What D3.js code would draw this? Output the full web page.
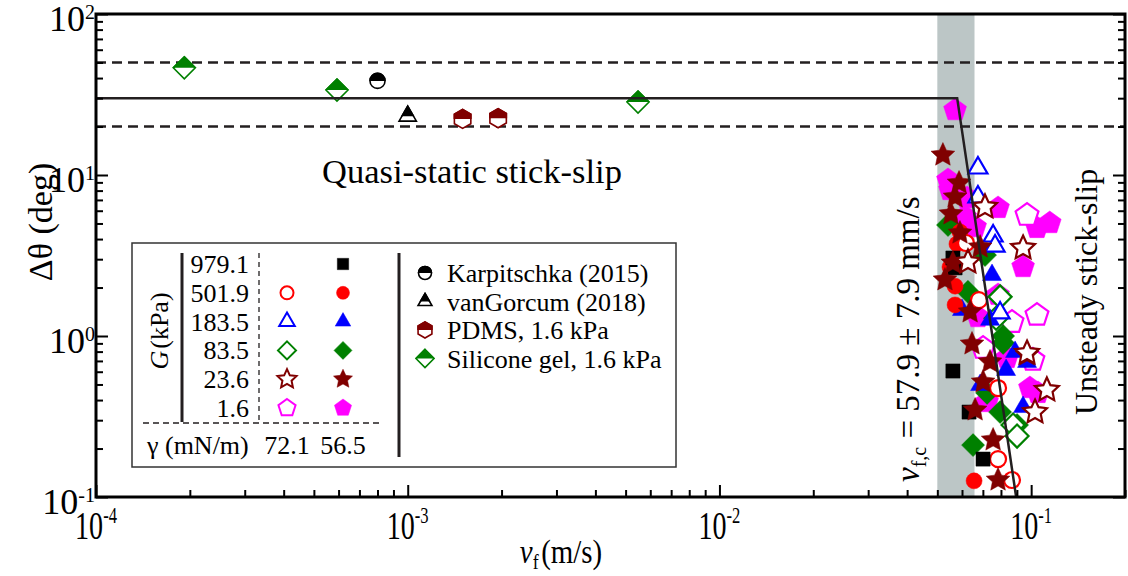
<!DOCTYPE html>
<html>
<head>
<meta charset="utf-8">
<script src="https://cdn.jsdelivr.net/npm/d3@7"></script>
<style>
body{margin:0;background:#fff;}
svg{display:block;font-family:"Liberation Serif","Times New Roman",serif;}
</style>
</head>
<body>
<script>
//axis domains and ticks
var xDomain = [1e-4, 0.2];
var yDomain = [0.1, 100];
var xTickExp = [-4, -3, -2, -1];
var yTickExp = [-1, 0, 1, 2];

//critical velocity band and model lines
var bandLow = 0.050, bandHigh = 0.0658;
var upperBound = 50, lowerBound = 20;
var fitV = [1e-4, 0.0579, 0.0895];
var fitTheta = [30, 30, 0.1];

//G = 979.1 kPa (only gamma 56.5)
var g979Filled = [[0.0561,3.05],[0.0570,2.65],[0.0561,0.606],[0.0632,0.337],[0.0701,0.172]];
//G = 501.9 kPa
var g501Open = [[0.0618,3.78],[0.0680,1.67],[0.0783,0.475],[0.0783,0.172],[0.0868,0.1275]];
var g501Filled = [[0.0591,4.43],[0.0578,3.73],[0.0549,2.68],[0.0570,2.04],[0.0570,1.56],[0.0656,0.126]];
//G = 183.5 kPa
var g183Open = [[0.0675,11.05],[0.0675,7.30],[0.0755,4.18],[0.0766,3.62],[0.0795,1.39]];
var g183Filled = [[0.0600,1.45],[0.0749,2.39],[0.0738,1.26],[0.0888,0.796],[0.0970,0.690],[0.0831,0.615],[0.0686,0.496],[0.0942,0.362]];
//G = 83.5 kPa
var g83Open = [[0.0795,1.75],[0.0772,1.29],[0.0875,0.280],[0.0901,0.239]];
var g83Filled = [[0.0541,4.89],[0.0711,3.18],[0.0627,1.88],[0.0813,1.00],[0.0813,0.905],[0.0722,0.443],[0.0795,0.337],[0.0901,0.280],[0.0651,0.210]];
//G = 23.6 kPa
var g23Open = [[0.0711,6.33],[0.0627,2.88],[0.0942,3.52],[0.0970,0.784],[0.1123,0.462],[0.1029,0.337]];
var g23Filled = [[0.0521,13.3],[0.0587,8.92],[0.0570,7.30],[0.0553,5.73],[0.0591,4.36],[0.0561,2.84],[0.0529,2.23],[0.0686,3.57],[0.0637,1.41],[0.0646,0.892],[0.0738,0.690],[0.0701,0.518],[0.0661,0.347],[0.0755,0.226],[0.0783,0.1275],[0.0970,0.762]];
//G = 1.6 kPa
var g1Open = [[0.0970,5.64],[0.1044,1.35],[0.0868,1.22],[0.0701,0.842],[0.1013,0.710]];
var g1Filled = [[0.0570,25.3],[0.0541,9.31],[0.0549,8.07],[0.0623,7.20],[0.0783,6.24],[0.0614,5.48],[0.0661,4.75],[0.1044,4.69],[0.1147,5.03],[0.0942,2.68],[0.0783,1.80],[0.0675,1.31],[0.0837,0.730],[0.0991,0.475],[0.1052,0.443],[0.0722,0.389]];

//literature / other substrates (half filled)
var karpitschka = [[8.0e-4,38.4]];
var vanGorcum = [[1.0e-3,23.2]];
var pdms = [[1.5e-3,22.3],[1.95e-3,22.5]];
var siliconeGel = [[1.92e-4,46.3],[5.93e-4,33.7],[5.48e-3,28.4]];

//legend texts
var legendG = ["979.1","501.9","183.5","83.5","23.6","1.6"];
var legendGamma = ["72.1","56.5"];
var legendRefs = ["Karpitschka (2015)","vanGorcum (2018)","PDMS, 1.6 kPa","Silicone gel, 1.6 kPa"];

var width = 1128, height = 576;
var svg = d3.select("body").append("svg").attr("width", width).attr("height", height);

var x = d3.scaleLog().domain(xDomain).range([96, 1125]);
var y = d3.scaleLog().domain(yDomain).range([497, 14]);

svg.append("defs").append("clipPath").attr("id","plotClip")
    .append("rect").attr("x",96).attr("y",14).attr("width",1029).attr("height",483);
svg.select("defs").append("clipPath").attr("id","topHalf")
    .append("rect").attr("x",-40).attr("y",-40).attr("width",80).attr("height",40);

var plot = svg.append("g").attr("clip-path","url(#plotClip)");

//shaded band for v_f,c
plot.append("rect")
    .attr("x", x(bandLow)).attr("y", y(yDomain[1]))
    .attr("width", x(bandHigh) - x(bandLow))
    .attr("height", y(yDomain[0]) - y(yDomain[1]))
    .attr("fill", "#bcc6c6");

//dashed bounds
[upperBound, lowerBound].forEach(function(v){
    plot.append("line")
        .attr("x1", x(xDomain[0])).attr("x2", x(xDomain[1]))
        .attr("y1", y(v)).attr("y2", y(v))
        .attr("stroke", "#231f20").attr("stroke-width", 2.5)
        .attr("stroke-dasharray", "10,6");
});

//marker shapes
function poly(n, r, rot){
    var pts = [];
    for (var i=0; i<n; i++){
        var a = rot + i * 2 * Math.PI / n;
        pts.push([r * Math.cos(a), r * Math.sin(a)]);
    }
    return d3.line()(pts) + "Z";
}
function shapePath(shape, r){
    if (shape == "circle") return d3.symbol().type(d3.symbolCircle).size(Math.PI * r * r)();
    if (shape == "square") return poly(4, r, -Math.PI/4);
    if (shape == "triangle") return poly(3, r, -Math.PI/2);
    if (shape == "diamond") return poly(4, r, -Math.PI/2);
    if (shape == "pentagon") return poly(5, r, -Math.PI/2);
    if (shape == "hexagon") return poly(6, r, -Math.PI/2);
    if (shape == "star"){
        var pts = [];
        for (var i=0; i<10; i++){
            var a = -Math.PI/2 + i * Math.PI / 5, rr = (i % 2) ? r * 0.48 : r;
            pts.push([rr * Math.cos(a), rr * Math.sin(a)]);
        }
        return d3.line()(pts) + "Z";
    }
}
var shapeSize = {circle: 8, square: 10, triangle: 11, diamond: 11.5, pentagon: 12, star: 12.5, hexagon: 9.5};

//series table built from the arrays above (draw order)
var series = [
    {data: g1Filled, shape: "pentagon", color: "#ff00ff", filled: true},
    {data: g1Open, shape: "pentagon", color: "#ff00ff", filled: false},
    {data: g83Filled, shape: "diamond", color: "#008000", filled: true},
    {data: g83Open, shape: "diamond", color: "#008000", filled: false},
    {data: g183Filled, shape: "triangle", color: "#0000ff", filled: true},
    {data: g183Open, shape: "triangle", color: "#0000ff", filled: false},
    {data: g501Filled, shape: "circle", color: "#ff0000", filled: true},
    {data: g501Open, shape: "circle", color: "#ff0000", filled: false},
    {data: g979Filled, shape: "square", color: "#000000", filled: true},
    {data: g23Filled, shape: "star", color: "#800000", filled: true},
    {data: g23Open, shape: "star", color: "#800000", filled: false}
];

series.forEach(function(s){
    svg.append("g").selectAll("path")
        .data(s.data)
        .enter()
        .append("path")
        .attr("transform", function(d){ return "translate(" + x(d[0]) + "," + y(d[1]) + ")"; })
        .attr("d", shapePath(s.shape, shapeSize[s.shape]))
        .attr("fill", s.filled ? s.color : "#fff")
        .attr("stroke", s.color)
        .attr("stroke-width", s.filled ? 0.5 : 2.2)
        .attr("stroke-linejoin", "miter");
});

//half filled markers
function halfMarker(g, shape, r, color){
    var p = shapePath(shape, r);
    g.append("path").attr("d", p).attr("fill", "#fff").attr("stroke", color).attr("stroke-width", 1.6);
    g.append("path").attr("d", p).attr("fill", color).attr("stroke", color).attr("stroke-width", 1.6)
        .attr("clip-path", "url(#topHalf)");
}
var halfSeries = [
    {data: karpitschka, shape: "circle", r: 7.5, color: "#000000"},
    {data: vanGorcum, shape: "triangle", r: 10, color: "#000000"},
    {data: pdms, shape: "hexagon", r: 9.5, color: "#800000"},
    {data: siliconeGel, shape: "diamond", r: 11, color: "#008000"}
];
halfSeries.forEach(function(s){
    s.data.forEach(function(d){
        var g = svg.append("g").attr("transform", "translate(" + x(d[0]) + "," + y(d[1]) + ")");
        halfMarker(g, s.shape, s.r, s.color);
    });
});

//model line
var fitPts = fitV.map(function(v, i){ return [x(v), y(fitTheta[i])]; });
svg.append("path")
    .attr("clip-path","url(#plotClip)")
    .attr("d", d3.line()(fitPts))
    .attr("fill", "none").attr("stroke", "#231f20").attr("stroke-width", 2.5);

//axes: inward ticks on bottom, left, right
function isMajor(d){ var l = Math.log10(d); return Math.abs(l - Math.round(l)) < 1e-6; }
var xAll = x.ticks(), yAll = y.ticks();
var xMaj = xAll.filter(isMajor), xMin = xAll.filter(function(d){ return !isMajor(d); });
var yMaj = yAll.filter(isMajor), yMin = yAll.filter(function(d){ return !isMajor(d); });

function tickAxis(gen, ticks, len, tr){
    var g = svg.append("g").attr("transform", tr)
        .call(gen.tickValues(ticks).tickSizeInner(-len).tickSizeOuter(0).tickFormat(""));
    g.select(".domain").remove();
    g.selectAll("line").attr("stroke", "#000").attr("stroke-width", 2);
}
tickAxis(d3.axisBottom(x), xMaj, 12, "translate(0,497)");
tickAxis(d3.axisBottom(x), xMin, 7, "translate(0,497)");
tickAxis(d3.axisLeft(y), yMaj, 12, "translate(96,0)");
tickAxis(d3.axisLeft(y), yMin, 7, "translate(96,0)");
tickAxis(d3.axisRight(y), yMaj, 12, "translate(1125,0)");
tickAxis(d3.axisRight(y), yMin, 7, "translate(1125,0)");

svg.append("rect").attr("x", 96).attr("y", 14).attr("width", 1029).attr("height", 483)
    .attr("fill", "none").attr("stroke", "#000").attr("stroke-width", 3);

//tick labels
xTickExp.forEach(function(e){
    var t = svg.append("text")
        .attr("transform", "translate(" + x(Math.pow(10, e)) + ",539) scale(0.72,1)")
        .attr("text-anchor", "middle").attr("font-size", 39);
    t.append("tspan").text("10");
    t.append("tspan").attr("dy", -16).attr("font-size", 23).text(e);
});
yTickExp.forEach(function(e){
    var t = svg.append("text")
        .attr("x", 95).attr("y", y(Math.pow(10, e)) + 17)
        .attr("text-anchor", "end").attr("font-size", 36);
    t.append("tspan").text("10");
    t.append("tspan").attr("dy", -12).attr("font-size", 20).text(e);
});

//axis titles
var xt = svg.append("text").attr("transform", "translate(561,563) scale(0.85,1)")
    .attr("text-anchor", "middle").attr("font-size", 34);
xt.append("tspan").attr("font-style", "italic").text("v");
xt.append("tspan").attr("font-size", 21).attr("dy", 6).text("f");
xt.append("tspan").attr("dy", -6).attr("dx", 3).text("(m/s)");

svg.append("text")
    .attr("transform", "translate(52,222) rotate(-90)")
    .attr("text-anchor", "middle").attr("font-size", 34)
    .text("\u0394\u03b8 (deg)");

//annotations
svg.append("text").attr("x", 322).attr("y", 183).attr("font-size", 34.5).text("Quasi-static stick-slip");
svg.append("text").attr("transform", "translate(1097,415) rotate(-90)").attr("font-size", 32).text("Unsteady stick-slip");
var vc = svg.append("text").attr("transform", "translate(919,482) rotate(-90)").attr("font-size", 33);
vc.append("tspan").attr("font-style", "italic").text("v");
vc.append("tspan").attr("font-size", 20).attr("dy", 7).text("f,c");
vc.append("tspan").attr("dy", -7).text(" = 57.9 \u00b1 7.9 mm/s");

//legend
var leg = svg.append("g");
leg.append("rect").attr("x", 132).attr("y", 243).attr("width", 544).attr("height", 224)
    .attr("fill", "#fff").attr("stroke", "#333").attr("stroke-width", 1.5);
leg.append("line").attr("x1", 182).attr("x2", 182).attr("y1", 253).attr("y2", 422)
    .attr("stroke", "#231f20").attr("stroke-width", 3);
leg.append("line").attr("x1", 399).attr("x2", 399).attr("y1", 253).attr("y2", 457)
    .attr("stroke", "#231f20").attr("stroke-width", 3);
leg.append("line").attr("x1", 259).attr("x2", 259).attr("y1", 253).attr("y2", 423)
    .attr("stroke", "#231f20").attr("stroke-width", 1.3).attr("stroke-dasharray", "5,4");
leg.append("line").attr("x1", 143).attr("x2", 380).attr("y1", 423).attr("y2", 423)
    .attr("stroke", "#231f20").attr("stroke-width", 1.3).attr("stroke-dasharray", "6,4");

var gl = leg.append("text").attr("transform", "translate(168,331) rotate(-90)")
    .attr("text-anchor", "middle").attr("font-size", 26);
gl.append("tspan").attr("font-style", "italic").text("G");
gl.append("tspan").attr("dx", 2).text("(kPa)");

var legRows = [
    {shape: "square", color: "#000000", open: false},
    {shape: "circle", color: "#ff0000", open: true},
    {shape: "triangle", color: "#0000ff", open: true},
    {shape: "diamond", color: "#008000", open: true},
    {shape: "star", color: "#800000", open: true},
    {shape: "pentagon", color: "#ff00ff", open: true}
];
var legScale = {circle: 6.5, square: 8, triangle: 9, diamond: 9, star: 10, pentagon: 9};
legendG.forEach(function(label, i){
    var cy = 264 + i * 28.8;
    leg.append("text").attr("x", 249).attr("y", cy + 9).attr("text-anchor", "end").attr("font-size", 26).text(label);
    var row = legRows[i];
    var p = shapePath(row.shape, legScale[row.shape]);
    if (row.open){
        leg.append("path").attr("d", p).attr("transform", "translate(287," + cy + ")")
            .attr("fill", "#fff").attr("stroke", row.color).attr("stroke-width", 2);
    }
    leg.append("path").attr("d", p).attr("transform", "translate(343," + cy + ")")
        .attr("fill", row.color).attr("stroke", row.color).attr("stroke-width", 0.5);
});
leg.append("text").attr("x", 147).attr("y", 454).attr("font-size", 26).text("\u03b3 (mN/m)");
legendGamma.forEach(function(label, i){
    leg.append("text").attr("x", 287 + i * 56).attr("y", 454).attr("text-anchor", "middle")
        .attr("font-size", 26).text(label);
});

var refShapes = [
    {shape: "circle", r: 6.5, color: "#000000"},
    {shape: "triangle", r: 8, color: "#000000"},
    {shape: "hexagon", r: 8, color: "#800000"},
    {shape: "diamond", r: 9, color: "#008000"}
];
legendRefs.forEach(function(label, i){
    var cy = 273 + i * 28.5;
    var g = leg.append("g").attr("transform", "translate(425," + cy + ")");
    halfMarker(g, refShapes[i].shape, refShapes[i].r, refShapes[i].color);
    leg.append("text").attr("x", 447).attr("y", cy + 9).attr("font-size", 26).text(label);
});
</script>
</body>
</html>
